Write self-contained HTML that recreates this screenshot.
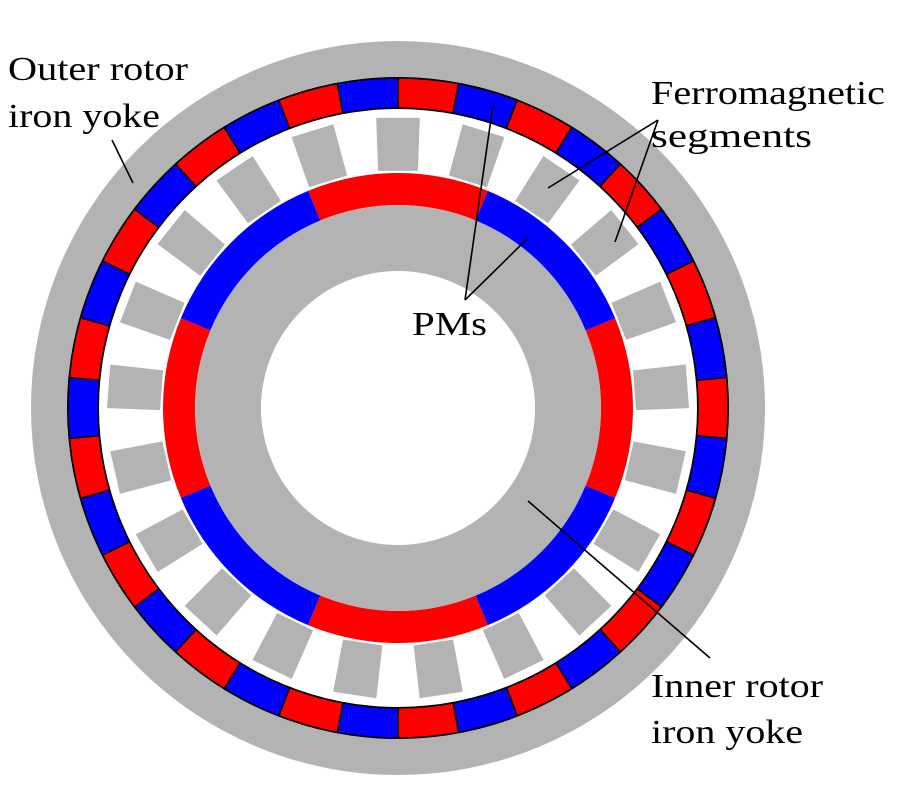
<!DOCTYPE html>
<html><head><meta charset="utf-8"><style>
html,body{margin:0;padding:0;background:#fff;width:900px;height:800px;overflow:hidden}
svg{display:block}
text{font-family:"Liberation Serif",serif;font-size:34px;fill:#000}
</style></head><body>
<svg id="s" width="900" height="800" viewBox="0 0 900 800" xmlns="http://www.w3.org/2000/svg">
<circle cx="398" cy="408" r="367" fill="#b3b3b3"/>
<circle cx="398" cy="408" r="331" fill="#000"/>
<g id="outer"></g>
<circle cx="398" cy="408" r="299" fill="#fff"/>
<g id="ferro"></g>
<g id="inner"></g>
<circle cx="398" cy="408" r="203" fill="#b3b3b3"/>
<circle cx="398" cy="408" r="137" fill="#fff"/>
<g stroke="#000" stroke-width="1.6" fill="none">
<line x1="112" y1="140" x2="133" y2="183"/>
<line x1="658" y1="120" x2="548" y2="188"/>
<line x1="658" y1="120" x2="615" y2="242"/>
<line x1="465" y1="300" x2="493" y2="105"/>
<line x1="465" y1="300" x2="528" y2="238"/>
<line x1="528" y1="501" x2="710" y2="658"/>
</g>
<text x="8" y="80" textLength="180" lengthAdjust="spacingAndGlyphs">Outer rotor</text>
<text x="8" y="127" textLength="152" lengthAdjust="spacingAndGlyphs">iron yoke</text>
<text x="651" y="104" textLength="234" lengthAdjust="spacingAndGlyphs">Ferromagnetic</text>
<text x="651" y="147" textLength="161" lengthAdjust="spacingAndGlyphs">segments</text>
<text x="412" y="335" textLength="75" lengthAdjust="spacingAndGlyphs">PMs</text>
<text x="651" y="697" textLength="172" lengthAdjust="spacingAndGlyphs">Inner rotor</text>
<text x="651" y="743" textLength="152" lengthAdjust="spacingAndGlyphs">iron yoke</text>
</svg>
<script>
var cx=398,cy=408,NS="http://www.w3.org/2000/svg";
function P(r,a){a=a*Math.PI/180;return [cx+r*Math.cos(a),cy-r*Math.sin(a)];}
function arc(r1,r2,a1,a2,fill,stroke,parent){
 var p1=P(r2,a1),p2=P(r2,a2),p3=P(r1,a2),p4=P(r1,a1);
 var large=(a2-a1)>180?1:0;
 var d="M"+p1+" A"+r2+" "+r2+" 0 "+large+" 0 "+p2+" L"+p3+" A"+r1+" "+r1+" 0 "+large+" 1 "+p4+"Z";
 var e=document.createElementNS(NS,"path");e.setAttribute("d",d);e.setAttribute("fill",fill);
 if(stroke){e.setAttribute("stroke",stroke);e.setAttribute("stroke-width","1.5");}
 document.getElementById(parent).appendChild(e);
}
var w=360/34;
for(var i=0;i<34;i++){var a2=90-i*w,a1=a2-w;arc(300,330,a1,a2,i%2==0?"#ff0000":"#0000ff","#000","outer");}
for(var k=0;k<21;k++){var c=90+k*360/21;
 var o1=P(291,c-4.3),o2=P(291,c+4.3),i1=P(238,c+4.8),i2=P(238,c-4.8);
 var e=document.createElementNS(NS,"polygon");e.setAttribute("points",[o1,o2,i1,i2].join(" "));e.setAttribute("fill","#b3b3b3");
 document.getElementById("ferro").appendChild(e);}
for(var j=0;j<8;j++){var c=90+j*45;arc(203,235,c-22.5,c+22.5,j%2==0?"#ff0000":"#0000ff",null,"inner");}
</script>
</body></html>
